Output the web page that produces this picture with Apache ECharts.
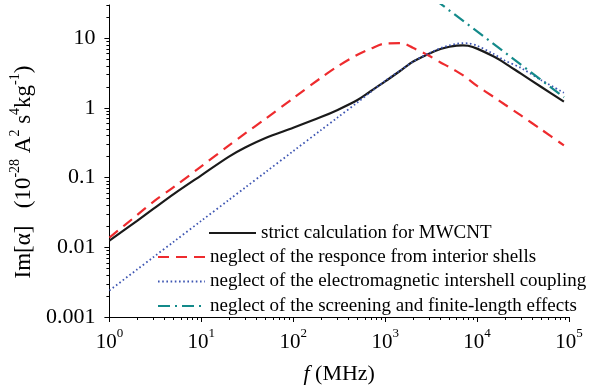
<!DOCTYPE html>
<html>
<head>
<meta charset="utf-8">
<script src="https://cdn.jsdelivr.net/npm/echarts@6/dist/echarts.min.js"></script>
<style>
  html, body { margin: 0; padding: 0; background: #fff; }
  #chart { width: 601px; height: 390px; }
</style>
</head>
<body>
<div id="chart"></div>
<script>
// frequencies (MHz) shared by the first three curves
var freq = [1, 2, 3, 5, 10, 20, 30, 50, 100, 200, 300, 500, 700, 1000, 1500, 2000,
  3000, 4000, 5000, 6000, 7000, 8000, 10000, 15000, 20000, 30000, 50000, 88000];

var strictVals = [0.0125, 0.024, 0.0355, 0.058, 0.108, 0.2, 0.27, 0.37, 0.52, 0.74, 0.93, 1.3, 1.75, 2.4, 3.5, 4.6,
  6.0, 7.0, 7.55, 7.85, 7.9, 7.8, 7.1, 5.5, 4.4, 3.1, 2.0, 1.23];
var noInteriorVals = [0.0138, 0.029, 0.045, 0.073, 0.145, 0.29, 0.43, 0.7, 1.38, 2.7, 3.9, 5.8, 7.1, 8.4, 8.5, 7.3,
  5.6, 4.5, 3.85, 3.35, 2.95, 2.6, 2.07, 1.45, 1.12, 0.78, 0.49, 0.29];
var noCouplingVals = [0.0024, 0.0048, 0.0072, 0.012, 0.024, 0.048, 0.072, 0.12, 0.24, 0.48, 0.72, 1.2, 1.7, 2.45, 3.55, 4.6,
  6.1, 7.2, 7.9, 8.35, 8.5, 8.45, 7.8, 6.0, 4.8, 3.75, 2.5, 1.65];

// screening curve only shows on the right
var screenFreq = [3500, 5000, 10000, 20000, 50000, 88000];
var screenVals = [35.7, 25, 12.5, 6.25, 2.5, 1.42];

var names = [
  'strict calculation for MWCNT',
  'neglect of the responce from interior shells',
  'neglect of the electromagnetic intershell coupling',
  'neglect of the screening and finite-length effects'
];

var xMajor = [1, 10, 100, 1000, 10000, 100000];
var yMajor = [0.001, 0.01, 0.1, 1, 10];

var xMinor = [], yMinor = [];
for (var d = 1; d < 100000; d *= 10) {
  for (var k = 2; k <= 9; k++) xMinor.push(k * d);
}
for (var e = 0.001; e < 20; e *= 10) {
  for (var m = 2; m <= 9; m++) {
    var v = +(m * e).toPrecision(3);
    if (v <= 30) yMinor.push(v);
  }
}

function pairs(xs, ys) {
  return xs.map(function (x, i) { return [x, ys[i]]; });
}

var serif = 'Liberation Serif';
var chart = echarts.init(document.getElementById('chart'), null, { renderer: 'canvas' });

var legendBase = {
  orient: 'vertical',
  padding: 0, itemGap: 4.5,
  itemWidth: 47, itemHeight: 14,
  itemStyle: { opacity: 0 },
  textStyle: { fontFamily: serif, fontSize: 19, color: '#000', lineHeight: 20 }
};

var option = {
  animation: false,
  backgroundColor: '#fff',
  grid: { left: 102, right: 32, top: 5, bottom: 68 },
  legend: [
    Object.assign({}, legendBase, { data: [names[0]], left: 208, top: 223 }),
    Object.assign({}, legendBase, { data: names.slice(1), left: 157, top: 247 })
  ],
  xAxis: [{
    type: 'log', logBase: 10, min: 1, max: 100000,
    position: 'bottom',
    name: '{i|f} (MHz)',
    nameLocation: 'middle', nameGap: 46,
    nameTextStyle: {
      fontFamily: serif, fontSize: 22, color: '#000',
      rich: { i: { fontFamily: serif, fontSize: 22, fontStyle: 'italic', color: '#000' } }
    },
    axisLine: { lineStyle: { color: '#000', width: 1 } },
    axisTick: { customValues: xMajor, length: 5, lineStyle: { color: '#000' } },
    axisLabel: {
      customValues: xMajor,
      margin: 10,
      formatter: function (v) { return '{b|10}{s|' + Math.round(Math.log10(v)) + '}'; },
      rich: {
        b: { fontFamily: serif, fontSize: 21, color: '#000', lineHeight: 26, verticalAlign: 'bottom' },
        s: { fontFamily: serif, fontSize: 13, color: '#000', lineHeight: 14, verticalAlign: 'top' }
      }
    },
    splitLine: { show: false }
  }, {
    type: 'log', logBase: 10, min: 1, max: 100000,
    position: 'bottom',
    axisLine: { show: false },
    axisTick: { customValues: xMinor, length: 3, lineStyle: { color: '#000' } },
    axisLabel: { show: false },
    splitLine: { show: false }
  }],
  yAxis: [{
    type: 'log', logBase: 10, min: 0.001, max: 30,
    position: 'left',
    name: '{t|Im[α]   (10}{s|-28}{t| A}{s|2}{t| s}{s|4}{t|kg}{s|-1}{t|)}',
    nameLocation: 'middle', nameGap: 56, nameRotate: 90,
    nameTextStyle: {
      padding: [0, 22, 0, 0],
      rich: {
        t: { fontFamily: serif, fontSize: 23, color: '#000', lineHeight: 27, verticalAlign: 'bottom' },
        s: { fontFamily: serif, fontSize: 14, color: '#000', lineHeight: 15, verticalAlign: 'top' }
      }
    },
    axisLine: { lineStyle: { color: '#000', width: 1 } },
    axisTick: { customValues: yMajor, length: 5, lineStyle: { color: '#000' } },
    axisLabel: {
      customValues: yMajor,
      margin: 14,
      fontFamily: serif, fontSize: 22, color: '#000',
      formatter: function (v) { return String(v); }
    },
    splitLine: { show: false }
  }, {
    type: 'log', logBase: 10, min: 0.001, max: 30,
    position: 'left',
    axisLine: { show: false },
    axisTick: { customValues: yMinor, length: 3, lineStyle: { color: '#000' } },
    axisLabel: { show: false },
    splitLine: { show: false }
  }],
  series: [{
    name: names[0], type: 'line', symbol: 'none', smooth: 0.3, clip: true,
    data: pairs(freq, strictVals),
    color: '#1a1a1a',
    lineStyle: { color: '#1a1a1a', width: 2.2 }
  }, {
    name: names[1], type: 'line', symbol: 'none', smooth: 0.3, clip: true,
    data: pairs(freq, noInteriorVals),
    color: '#ee2b2e',
    lineStyle: { color: '#ee2b2e', width: 2.2, type: [11, 7] }
  }, {
    name: names[2], type: 'line', symbol: 'none', smooth: 0.3, clip: true,
    data: pairs(freq, noCouplingVals),
    color: '#3d55b2',
    lineStyle: { color: '#3d55b2', width: 1.8, type: [1.6, 2.6] }
  }, {
    name: names[3], type: 'line', symbol: 'none', clip: true,
    data: pairs(screenFreq, screenVals),
    color: '#138a8a',
    lineStyle: { color: '#138a8a', width: 2.2, type: [12, 5, 2, 5] }
  }]
};

chart.setOption(option);
</script>
</body>
</html>
